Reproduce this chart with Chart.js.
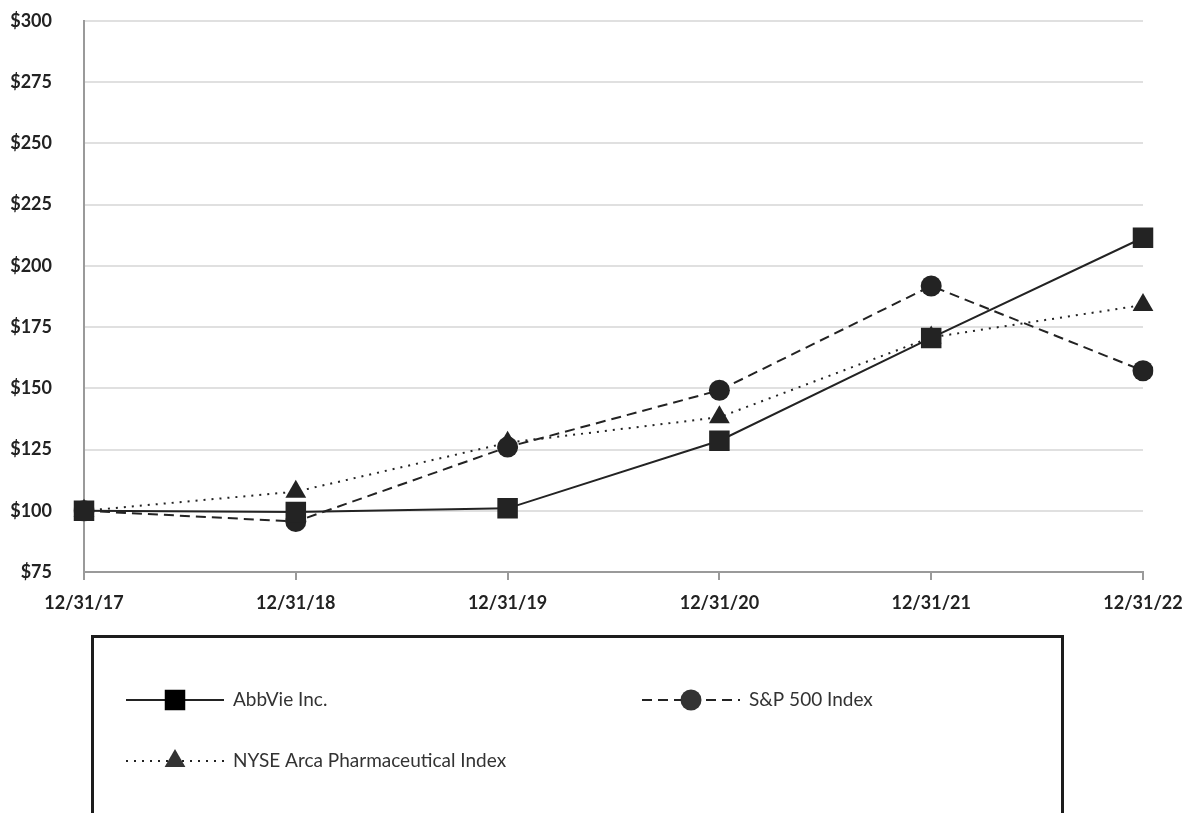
<!DOCTYPE html>
<html>
<head>
<meta charset="utf-8">
<script src="https://cdn.jsdelivr.net/npm/chart.js@4.4.1/dist/chart.umd.min.js"></script>
<style>
	body { margin: 0; background: #fff; }
	#wrap { width: 1186px; height: 813px; position: relative; }
</style>
</head>
<body>
<div id="wrap"><canvas id="perf-chart"></canvas></div>
<script>
var periods = ["12/31/17", "12/31/18", "12/31/19", "12/31/20", "12/31/21", "12/31/22"];
var abbvie = [100.0, 99.5, 101.0, 128.6, 170.6, 211.5];
var sp500 = [100.0, 95.6, 126.0, 149.2, 191.8, 157.2];
var nyseArca = [100.0, 107.8, 127.8, 138.2, 170.8, 184.0];
var yTicks = [75, 100, 125, 150, 175, 200, 225, 250, 275, 300];

var ink = '#232323';

// legend box drawn under the plot, like the original filing
var boxLegend = {
	id: 'boxLegend',
	afterDraw: function(chart) {
		var ctx = chart.ctx;
		var sets = chart.data.datasets;
		var spots = [
			{ x: 126, y: 700 },
			{ x: 642, y: 700 },
			{ x: 126, y: 761 }
		];
		ctx.save();
		ctx.lineWidth = 3;
		ctx.strokeStyle = '#1c1c1c';
		ctx.strokeRect(92.5, 636.5, 970, 200);

		sets.forEach(function(ds, i) {
			var s = spots[i];
			var len = 98;
			ctx.strokeStyle = ds.borderColor;
			ctx.lineWidth = 1.8;
			ctx.setLineDash(ds.borderDash || []);
			ctx.beginPath();
			ctx.moveTo(s.x, s.y);
			ctx.lineTo(s.x + len, s.y);
			ctx.stroke();
			ctx.setLineDash([]);
			Chart.helpers.drawPoint(ctx, {
				pointStyle: ds.pointStyle,
				radius: ds.pointRadius,
				rotation: 0,
				borderWidth: 0
			}, s.x + len / 2, s.y);
			ctx.fillStyle = '#333';
			ctx.font = '19px Lato';
			ctx.textBaseline = 'middle';
			ctx.textAlign = 'left';
			ctx.fillText(ds.label, s.x + len + 9, s.y);
		});
		ctx.restore();
	}
};

var perfCtx = document.getElementById("perf-chart").getContext('2d');
var perfChart = new Chart(perfCtx, {
	type: 'line',
	data: {
		labels: periods,
		datasets: [{
			label: 'AbbVie Inc.',
			data: abbvie,
			borderColor: ink,
			backgroundColor: ink,
			borderWidth: 2,
			pointStyle: 'rect',
			pointRadius: 14.5,
			pointBorderWidth: 0,
			tension: 0
		}, {
			label: 'S&P 500 Index',
			data: sp500,
			borderColor: ink,
			backgroundColor: ink,
			borderWidth: 2,
			borderDash: [10, 6],
			pointStyle: 'circle',
			pointRadius: 10.5,
			pointBorderWidth: 0,
			tension: 0
		}, {
			label: 'NYSE Arca Pharmaceutical Index',
			data: nyseArca,
			borderColor: ink,
			backgroundColor: ink,
			borderWidth: 2,
			borderDash: [2, 6],
			pointStyle: 'triangle',
			pointRadius: 12,
			pointBorderWidth: 0,
			tension: 0
		}]
	},
	options: {
		responsive: true,
		maintainAspectRatio: false,
		animation: false,
		layout: {
			padding: { top: 21, right: 43, bottom: 193, left: 0 }
		},
		plugins: {
			legend: { display: false },
			tooltip: { enabled: false }
		},
		scales: {
			x: {
				grid: {
					drawOnChartArea: false,
					drawTicks: true,
					tickLength: 8,
					color: '#9a9a9a',
					lineWidth: 2
				},
				border: { display: true, color: '#9a9a9a', width: 2 },
				ticks: {
					color: '#222',
					font: { family: 'Lato', size: 18, weight: 'bold' },
					padding: 12,
					maxRotation: 0
				},
				afterFit: function(scale) {
					scale.height = 48;
					scale.paddingLeft = 0;
					scale.paddingRight = 0;
				}
			},
			y: {
				min: 75,
				max: 300,
				afterBuildTicks: function(scale) {
					scale.ticks = yTicks.map(function(v) { return { value: v }; });
				},
				grid: {
					color: '#e0e0e0',
					lineWidth: 2,
					drawTicks: false
				},
				border: { display: true, color: '#9a9a9a', width: 2 },
				ticks: {
					color: '#222',
					font: { family: 'Lato', size: 18, weight: 'bold' },
					padding: 32,
					callback: function(v) { return '$' + v; }
				},
				afterFit: function(scale) {
					scale.width = 84;
					scale.paddingTop = 0;
					scale.paddingBottom = 0;
				}
			}
		}
	},
	plugins: [boxLegend]
});
</script>
</body>
</html>
